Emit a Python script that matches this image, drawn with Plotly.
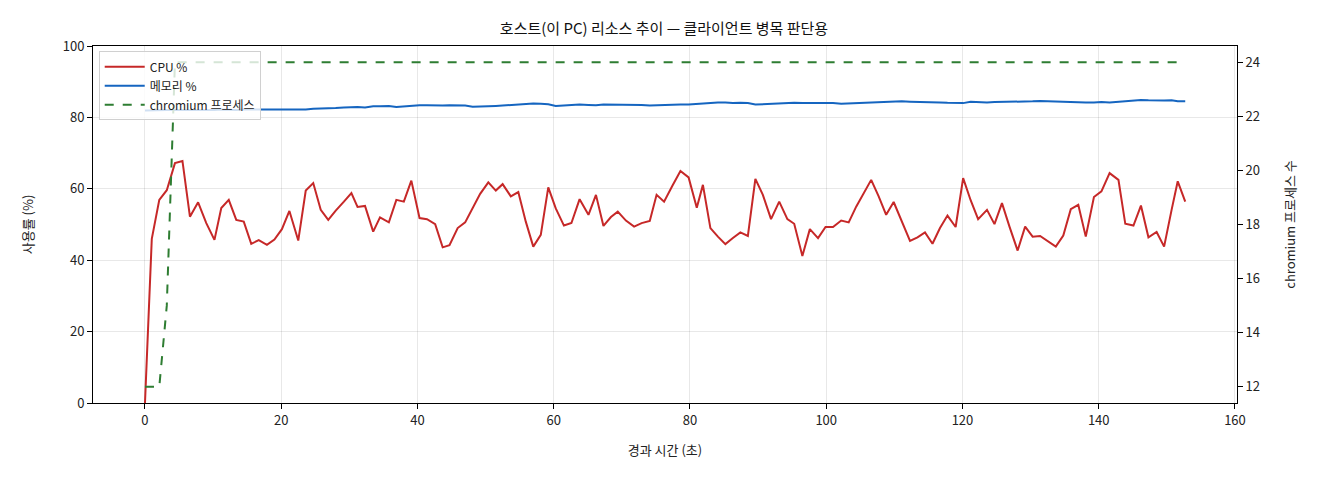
import plotly.graph_objects as go

# elapsed time (s) per sample
elapsed = [0.0, 1.0, 2.1, 3.2, 4.4, 5.5, 6.6, 7.8, 9.0, 10.2, 11.2, 12.3, 13.4, 14.5, 15.6, 16.7, 17.9, 19.0,
           20.1, 21.2, 22.5, 23.6, 24.7, 25.8, 26.9, 28.0, 29.2, 30.3, 31.2, 32.3, 33.5, 34.5, 35.8, 36.9, 38.0, 39.1,
           40.3, 41.4, 42.6, 43.7, 44.7, 45.9, 47.0, 48.1, 49.2, 50.4, 51.5, 52.5, 53.7, 54.8, 55.9, 57.0, 58.1, 59.2,
           60.3, 61.5, 62.6, 63.8, 65.1, 66.2, 67.3, 68.4, 69.4, 70.6, 71.8, 72.9, 74.1, 75.1, 76.2, 77.4, 78.6, 79.8,
           81.0, 81.9, 83.0, 84.1, 85.2, 86.3, 87.4, 88.5, 89.6, 90.7, 91.9, 93.1, 94.3, 95.3, 96.5, 97.6, 98.8, 99.9,
           101.0, 102.2, 103.3, 104.4, 105.5, 106.6, 107.7, 108.8, 109.9, 111.1, 112.3, 113.4, 114.5, 115.6, 116.7, 117.8, 119.0,
           120.1, 121.2, 122.3, 123.6, 124.7, 125.8, 126.9, 128.1, 129.2, 130.3, 131.4, 132.6, 133.7, 134.8, 135.9, 137.0, 138.1,
           139.3, 140.4, 141.6, 142.9, 143.9, 145.1, 146.2, 147.3, 148.5, 149.6, 150.7, 151.6, 152.7]

cpu = [0.0, 46.0, 56.9, 59.6, 67.2, 67.8, 52.2, 56.2, 50.4, 45.7, 54.6, 56.9, 51.3, 50.8, 44.6, 45.6, 44.3, 45.8,
       48.7, 53.8, 45.5, 59.5, 61.6, 54.1, 51.3, 53.9, 56.4, 58.8, 54.9, 55.2, 48.0, 52.0, 50.6, 56.9, 56.4, 62.3,
       51.8, 51.5, 50.1, 43.6, 44.2, 49.0, 50.6, 54.6, 58.6, 61.8, 59.5, 61.3, 57.9, 59.1, 50.8, 43.8, 47.1, 60.4,
       54.5, 49.7, 50.4, 57.1, 52.7, 58.3, 49.6, 52.1, 53.6, 51.1, 49.4, 50.4, 51.0, 58.3, 56.4, 60.8, 65.0, 63.2,
       54.7, 61.1, 49.0, 46.6, 44.5, 46.2, 47.8, 46.8, 62.8, 58.3, 51.5, 56.4, 51.5, 50.2, 41.2, 48.7, 46.2, 49.3,
       49.3, 51.1, 50.6, 55.0, 58.8, 62.5, 57.9, 52.7, 56.3, 50.8, 45.4, 46.4, 47.8, 44.6, 49.0, 52.5, 49.3,
       63.0, 56.8, 51.5, 54.1, 50.1, 56.0, 49.4, 42.7, 49.4, 46.6, 46.8, 45.2, 43.8, 46.9, 54.3, 55.5, 46.6,
       57.7, 59.3, 64.4, 62.5, 50.2, 49.7, 55.3, 46.4, 47.9, 43.8, 54.1, 62.1, 56.4]

mem = [81.9, 82.0, 82.0, 82.1, 82.1, 82.0, 82.1, 82.1, 82.0, 82.1, 82.2, 82.1, 82.1, 82.2, 82.1, 82.2, 82.2, 82.1,
       82.2, 82.2, 82.1, 82.2, 82.4, 82.4, 82.4, 82.6, 82.8,
       82.9, 82.9, 82.8, 83.1, 83.1, 83.2, 82.9, 83.1, 83.2,
       83.4, 83.4, 83.3, 83.3, 83.4, 83.4, 83.3, 83.0, 83.0,
       83.1, 83.2, 83.3, 83.5, 83.6, 83.7, 83.9, 83.8, 83.7,
       83.2, 83.3, 83.6, 83.6, 83.5, 83.4, 83.6, 83.6, 83.5,
       83.6, 83.5, 83.5, 83.3, 83.4, 83.4, 83.5, 83.6, 83.6,
       83.8, 84.0, 84.2, 84.2, 84.2, 84.0, 84.1, 84.0, 83.6,
       83.7, 83.9, 83.8, 84.0, 84.1, 84.0, 84.0, 84.1, 84.1,
       84.0, 83.8, 83.9, 83.8, 83.9, 84.1, 84.1, 84.3, 84.4,
       84.5, 84.4, 84.4, 84.2, 84.3, 84.2, 84.1, 84.0, 84.0,
       84.4, 84.3, 84.2, 84.3, 84.3, 84.4, 84.5, 84.4, 84.5,
       84.6, 84.5, 84.4, 84.3, 84.3, 84.2, 84.2, 84.2, 84.3,
       84.2, 84.4, 84.5, 84.8, 84.9, 84.8, 84.7, 84.7, 84.8, 84.5, 84.5]

chromium = [12, 12, 12, 15] + [24] * 133

FONT = "Noto Sans CJK KR"

fig = go.Figure()
fig.add_trace(go.Scatter(x=elapsed, y=cpu, mode="lines", name="CPU %",
                         line=dict(color="#c62828", width=2)))
fig.add_trace(go.Scatter(x=elapsed, y=mem, mode="lines", name="메모리 %",
                         line=dict(color="#1565c0", width=2)))
fig.add_trace(go.Scatter(x=elapsed, y=chromium, mode="lines", name="chromium 프로세스",
                         line=dict(color="#2e7d32", width=2, dash="dash"), yaxis="y2"))

axis_common = dict(showline=True, linecolor="black", linewidth=1, ticks="outside", ticklen=5,
                   tickcolor="black", tickfont=dict(size=13, color="#222"), zeroline=False)

# page body adds an 8px offset, so the figure is 8px smaller and margins shifted
fig.update_layout(
    width=1312, height=472,
    margin=dict(l=85, r=83, t=38, b=77),
    paper_bgcolor="white", plot_bgcolor="white",
    font=dict(family=FONT, color="#222"),
    title=dict(text="호스트(이 PC) 리소스 추이 — 클라이언트 병목 판단용", x=0.5, xanchor="center",
               y=0.955, yanchor="middle", font=dict(size=15, color="#111")),
    xaxis=dict(range=[-7.63, 160.3], tickvals=[0, 20, 40, 60, 80, 100, 120, 140, 160], mirror=True,
               showgrid=True, gridcolor="rgba(0,0,0,0.09)",
               title=dict(text="경과 시간 (초)", font=dict(size=13), standoff=18), **axis_common),
    yaxis=dict(range=[0, 100], tickvals=[0, 20, 40, 60, 80, 100],
               showgrid=True, gridcolor="rgba(0,0,0,0.09)",
               title=dict(text="사용률 (%)", font=dict(size=13), standoff=26), **axis_common),
    yaxis2=dict(range=[11.4, 24.6], tickvals=[12, 14, 16, 18, 20, 22, 24], overlaying="y", side="right",
                showgrid=False, title=dict(text="chromium 프로세스 수", font=dict(size=13), standoff=26),
                **axis_common),
    legend=dict(x=0.005, y=0.985, xanchor="left", yanchor="top", bgcolor="rgba(255,255,255,0.8)",
                bordercolor="#d0d0d0", borderwidth=1, font=dict(size=12, color="#222"),
                tracegroupgap=0, itemwidth=40),
    showlegend=True,
)

fig.write_html("out.html")
